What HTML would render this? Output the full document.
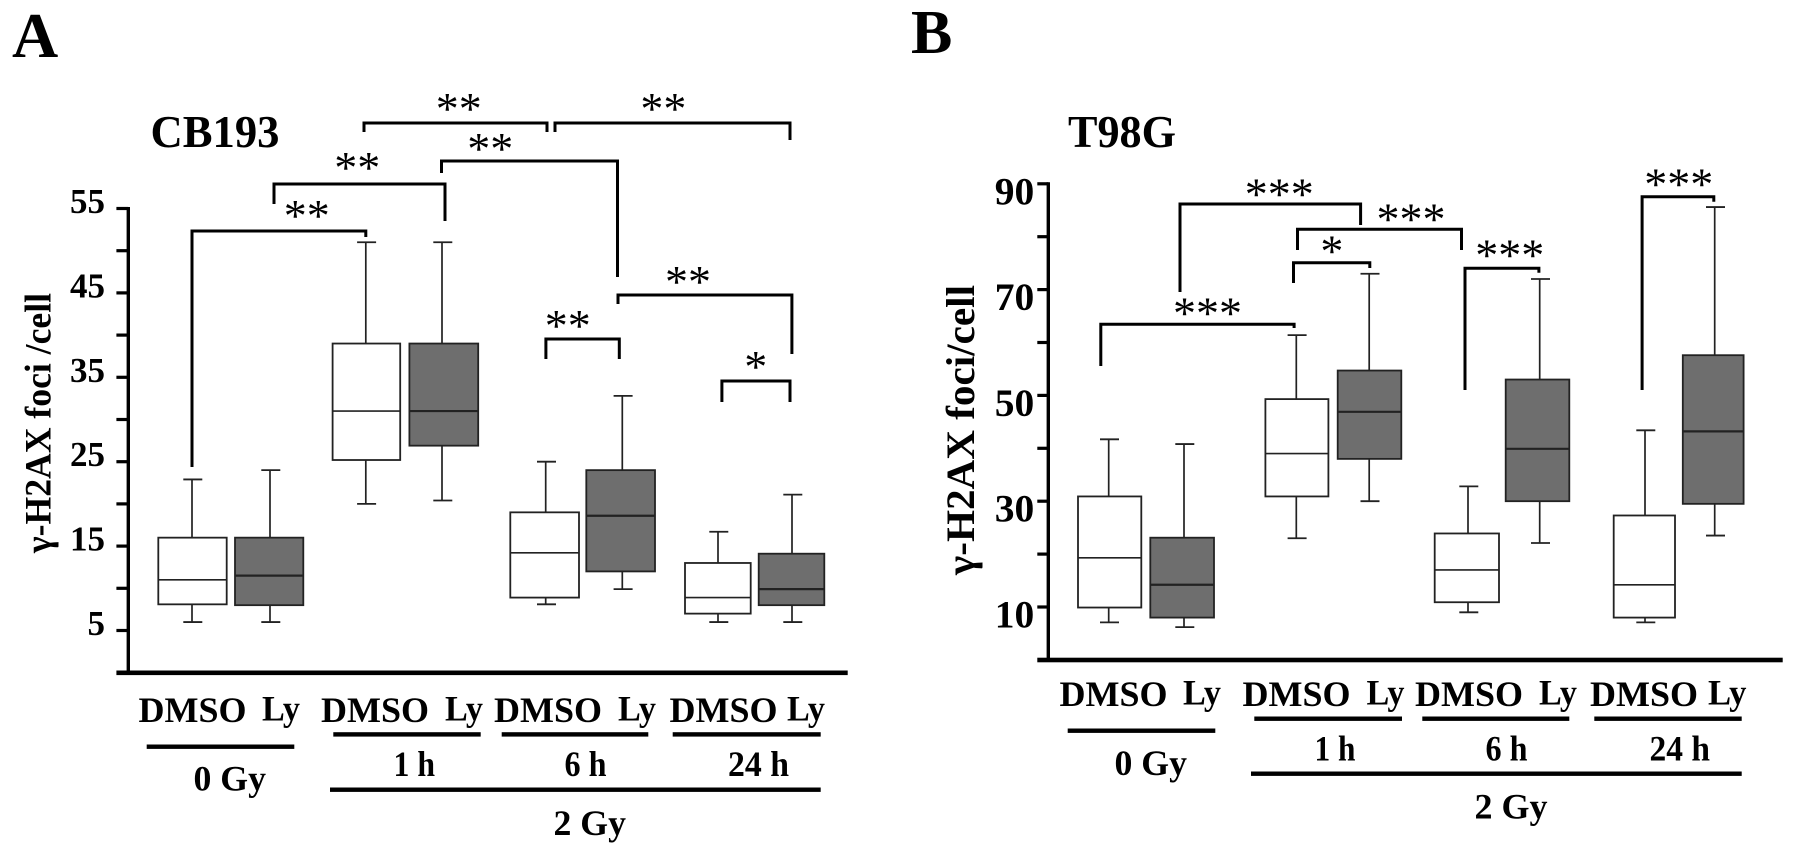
<!DOCTYPE html>
<html lang="en">
<head>
<meta charset="utf-8">
<title>γ-H2AX foci per cell: CB193 and T98G</title>
<style>
html,body{margin:0;padding:0;background:#fff;width:1795px;height:855px;overflow:hidden}
svg{display:block}
text{font-family:"Liberation Serif","DejaVu Serif",serif;font-weight:bold;fill:#000}
.br{fill:none;stroke:#000;stroke-width:3}
.st{font-size:46px;font-weight:normal;text-anchor:middle}
.xl{font-size:36px}
.bar{fill:#000}
</style>
</head>
<body>
<svg id="chart" xmlns="http://www.w3.org/2000/svg" width="1795" height="855" viewBox="0 0 1795 855">
<rect x="0" y="0" width="1795" height="855" fill="#fff"/>

<g id="panelA">
<text x="12" y="57" font-size="64">A</text>
<text x="150.5" y="147" font-size="45" textLength="129" lengthAdjust="spacingAndGlyphs">CB193</text>
<text transform="translate(50.5,553) rotate(-90)" font-size="37" textLength="260" lengthAdjust="spacingAndGlyphs">γ-H2AX foci /cell</text>

<polyline class="br" points="192,467 192,231 365.8,231 365.8,237"/>
<polyline class="br" points="274,204 274,184 445,184 445,221"/>
<polyline class="br" points="441.5,173 441.5,161 617.5,161 617.5,277"/>
<polyline class="br" points="364,132 364,123 547,123 547,132"/>
<polyline class="br" points="555,132 555,123 790,123 790,140"/>
<polyline class="br" points="618,304 618,295 791.9,295 791.9,354"/>
<polyline class="br" points="545.9,359 545.9,339 619.3,339 619.3,359"/>
<polyline class="br" points="721.9,402 721.9,381 790,381 790,402"/>

<text class="st" x="458.7" y="124">**</text>
<text class="st" x="663.4" y="124">**</text>
<text class="st" x="490.3" y="164">**</text>
<text class="st" x="357.2" y="183">**</text>
<text class="st" x="306.8" y="231">**</text>
<text class="st" x="688" y="297">**</text>
<text class="st" x="567.7" y="341">**</text>
<text class="st" x="755.7" y="382">*</text>

<text class="xl" x="138.5" y="722" textLength="108" lengthAdjust="spacingAndGlyphs">DMSO</text>
<text class="xl" x="262" y="720.5" textLength="38" lengthAdjust="spacingAndGlyphs">Ly</text>
<text class="xl" x="321" y="722" textLength="108" lengthAdjust="spacingAndGlyphs">DMSO</text>
<text class="xl" x="445" y="720.5" textLength="38" lengthAdjust="spacingAndGlyphs">Ly</text>
<text class="xl" x="494" y="722" textLength="108" lengthAdjust="spacingAndGlyphs">DMSO</text>
<text class="xl" x="618" y="720.5" textLength="38" lengthAdjust="spacingAndGlyphs">Ly</text>
<text class="xl" x="669.5" y="722" textLength="108" lengthAdjust="spacingAndGlyphs">DMSO</text>
<text class="xl" x="787" y="720.5" textLength="38" lengthAdjust="spacingAndGlyphs">Ly</text>

<rect class="bar" x="146.7" y="744.5" width="147.6" height="4.4"/>
<rect class="bar" x="333.3" y="732.2" width="147.4" height="4.4"/>
<rect class="bar" x="501.7" y="732.2" width="146.6" height="4.4"/>
<rect class="bar" x="672.7" y="732.2" width="148" height="4.4"/>
<rect class="bar" x="330" y="787.5" width="490.7" height="4.4"/>

<text class="xl" x="193.5" y="790.7" textLength="72.5" lengthAdjust="spacingAndGlyphs">0 Gy</text>
<text class="xl" x="393.5" y="776" textLength="41.5" lengthAdjust="spacingAndGlyphs">1 h</text>
<text class="xl" x="564.5" y="776" textLength="42" lengthAdjust="spacingAndGlyphs">6 h</text>
<text class="xl" x="728" y="776" textLength="61" lengthAdjust="spacingAndGlyphs">24 h</text>
<text class="xl" x="553.5" y="835" textLength="72.5" lengthAdjust="spacingAndGlyphs">2 Gy</text>
</g>

<g id="panelB">
<text x="911" y="53" font-size="62">B</text>
<text x="1068" y="147" font-size="45" textLength="108" lengthAdjust="spacingAndGlyphs">T98G</text>
<text transform="translate(974,575) rotate(-90)" font-size="40" textLength="290" lengthAdjust="spacingAndGlyphs">γ-H2AX foci/cell</text>

<polyline class="br" points="1100.8,366 1100.8,324.3 1294.1,324.3 1294.1,328"/>
<polyline class="br" points="1180,292 1180,204 1360.6,204 1360.6,225"/>
<polyline class="br" points="1297.5,250 1297.5,229.3 1461.5,229.3 1461.5,250"/>
<polyline class="br" points="1293.5,283 1293.5,262.7 1369.8,262.7 1369.8,268"/>
<polyline class="br" points="1465,390 1465,268.3 1538.9,268.3 1538.9,272.7"/>
<polyline class="br" points="1642.1,390 1642.1,196.7 1713.8,196.7 1713.8,201.7"/>

<text class="st" x="1279.2" y="209.5">***</text>
<text class="st" x="1411" y="234.5">***</text>
<text class="st" x="1331.9" y="266.5">*</text>
<text class="st" x="1509.7" y="270.5">***</text>
<text class="st" x="1678.8" y="199.5">***</text>
<text class="st" x="1207.5" y="328.5">***</text>

<text class="xl" x="1059.5" y="706" textLength="108" lengthAdjust="spacingAndGlyphs">DMSO</text>
<text class="xl" x="1183" y="704.7" textLength="38" lengthAdjust="spacingAndGlyphs">Ly</text>
<text class="xl" x="1242.5" y="706" textLength="108" lengthAdjust="spacingAndGlyphs">DMSO</text>
<text class="xl" x="1366.5" y="704.7" textLength="38" lengthAdjust="spacingAndGlyphs">Ly</text>
<text class="xl" x="1415" y="706" textLength="108" lengthAdjust="spacingAndGlyphs">DMSO</text>
<text class="xl" x="1539" y="704.7" textLength="38" lengthAdjust="spacingAndGlyphs">Ly</text>
<text class="xl" x="1590" y="706" textLength="108" lengthAdjust="spacingAndGlyphs">DMSO</text>
<text class="xl" x="1708" y="704.7" textLength="38.5" lengthAdjust="spacingAndGlyphs">Ly</text>

<rect class="bar" x="1067.7" y="728.5" width="147.6" height="4.4"/>
<rect class="bar" x="1254.3" y="716.5" width="147.7" height="4.4"/>
<rect class="bar" x="1422.3" y="716.5" width="147" height="4.4"/>
<rect class="bar" x="1594.3" y="716.5" width="147.4" height="4.4"/>
<rect class="bar" x="1251" y="771.5" width="490.7" height="4.4"/>

<text class="xl" x="1114.5" y="775" textLength="72.5" lengthAdjust="spacingAndGlyphs">0 Gy</text>
<text class="xl" x="1314.5" y="760.7" textLength="41" lengthAdjust="spacingAndGlyphs">1 h</text>
<text class="xl" x="1485.5" y="760.7" textLength="42" lengthAdjust="spacingAndGlyphs">6 h</text>
<text class="xl" x="1649.5" y="760.7" textLength="60.5" lengthAdjust="spacingAndGlyphs">24 h</text>
<text class="xl" x="1474.5" y="818.5" textLength="73" lengthAdjust="spacingAndGlyphs">2 Gy</text>
</g>
</svg>

<script>
// Box order: DMSO/Ly at 0 Gy, 1 h, 6 h, 24 h
const categories = ['0Gy-DMSO','0Gy-Ly','1h-DMSO','1h-Ly','6h-DMSO','6h-Ly','24h-DMSO','24h-Ly'];

const cb193Low    = [6, 6, 20, 20.4, 8.1, 9.9, 6, 6];
const cb193Q1     = [8.1, 8, 25.2, 26.9, 8.9, 12, 7, 8];
const cb193Median = [11, 11.5, 31, 31, 14.2, 18.6, 8.9, 9.9];
const cb193Q3     = [16, 16, 39, 39, 19, 24, 13, 14.1];
const cb193High   = [22.9, 24, 51, 51, 25, 32.8, 16.7, 21.1];
const cb193TickLabels = ['5','15','25','35','45','55'];
const cb193MinorTicks = [10, 20, 30, 40, 50];

const t98gLow    = [7.1, 6.2, 23, 30, 9, 22.1, 7.1, 23.5];
const t98gQ1     = [9.9, 8, 30.9, 38, 10.9, 30, 8, 29.5];
const t98gMedian = [19.3, 14.2, 39, 46.9, 17, 39.9, 14.2, 43.2];
const t98gQ3     = [30.9, 23.1, 49.3, 54.7, 23.9, 53, 27.3, 57.6];
const t98gHigh   = [41.7, 40.8, 61.4, 73, 32.8, 72, 43.4, 85.6];
const t98gTickLabels = ['10','30','50','70','90'];
const t98gMinorTicks = [20, 40, 60, 80];

const SVGNS = 'http://www.w3.org/2000/svg';

function make(tag, parent, attrs) {
  const el = document.createElementNS(SVGNS, tag);
  for (const k in attrs) el.setAttribute(k, attrs[k]);
  parent.appendChild(el);
  return el;
}

function drawPanel(panelId, p, low, q1, median, q3, high, tickLabels, minorTicks) {
  const root = document.getElementById(panelId);
  const y = v => p.baseY - p.unit * v;
  const top = Math.max(...tickLabels.map(Number));

  const yAxis = make('line', root, {x1: p.axisX, x2: p.axisX, y1: y(top) - 1.5, y2: p.baseY, stroke: '#000', 'stroke-width': 3.4});
  
  

  const xAxis = make('rect', root, {x: p.tickStart, y: p.baseY - 2.2, width: p.axisEnd - p.tickStart, height: 4.6, fill: '#000'});
  
  

  minorTicks.forEach(v => {
    const t = make('line', root, {x1: p.tickStart, x2: p.axisX, y1: y(v), y2: y(v), stroke: '#000', 'stroke-width': 3.2});
    
    
  });

  tickLabels.forEach(label => {
    const v = Number(label);
    const t = make('line', root, {x1: p.tickStart, x2: p.axisX, y1: y(v), y2: y(v), stroke: '#000', 'stroke-width': 3.2});
    
    
    const txt = make('text', root, {x: p.labelX, y: y(v) + p.labelDy, 'font-size': p.labelSize, 'text-anchor': 'end'});
    txt.textContent = label;
    
    
  });

  categories.forEach((cat, i) => {
    const left = p.boxLeft[i];
    const w = p.boxWidth[i];
    const cx = p.whiskerX[i];
    const dark = i % 2 === 1;
    const fill = dark ? '#6e6e6e' : '#fff';

    const g = make('g', root, {});
    
    

    const hiLine = make('line', g, {x1: cx, x2: cx, y1: y(q3[i]), y2: y(high[i]), stroke: '#222', 'stroke-width': 1.7});
    
    

    const hiCap = make('line', g, {x1: cx - 8.7, x2: cx + 10.3, y1: y(high[i]), y2: y(high[i]), stroke: '#222', 'stroke-width': 1.8});
    
    

    const loLine = make('line', g, {x1: cx, x2: cx, y1: y(q1[i]), y2: y(low[i]), stroke: '#222', 'stroke-width': 1.7});
    
    

    const loCap = make('line', g, {x1: cx - 8.7, x2: cx + 10.3, y1: y(low[i]), y2: y(low[i]), stroke: '#222', 'stroke-width': 1.8});
    
    

    const rect = make('rect', g, {x: left, y: y(q3[i]), width: w, height: y(q1[i]) - y(q3[i]), fill: fill, stroke: '#222', 'stroke-width': 1.8});
    
    

    const med = make('line', g, {x1: left, x2: left + w, y1: y(median[i]), y2: y(median[i]), stroke: '#222', 'stroke-width': dark ? 2.2 : 1.6});
    
    
  });
}

drawPanel('panelA', {
  baseY: 672.7, unit: 8.44, axisX: 128.3, tickStart: 116.4, axisEnd: 847.7,
  labelX: 105, labelDy: 4.5, labelSize: 35,
  boxLeft: [158.3, 235, 332.6, 409.4, 510.3, 586.3, 685, 758.7],
  boxWidth: [68.4, 68.3, 67.6, 68.8, 68.7, 68.7, 65.7, 65.6],
  whiskerX: [192, 270, 365.8, 442, 545.7, 622.3, 718, 792]
}, cb193Low, cb193Q1, cb193Median, cb193Q3, cb193High, cb193TickLabels, cb193MinorTicks);

drawPanel('panelB', {
  baseY: 659.9, unit: 5.29, axisX: 1048.3, tickStart: 1037.3, axisEnd: 1782.7,
  labelX: 1034.3, labelDy: 20.5, labelSize: 39.5,
  boxLeft: [1078, 1150.3, 1265.4, 1337.7, 1434.7, 1505.7, 1613.7, 1682.8],
  boxWidth: [63.3, 63.7, 63, 63.6, 64.3, 63.6, 61.3, 60.8],
  whiskerX: [1108.7, 1184, 1296.3, 1369.2, 1468, 1539.7, 1645, 1714.7]
}, t98gLow, t98gQ1, t98gMedian, t98gQ3, t98gHigh, t98gTickLabels, t98gMinorTicks);
</script>
</body>
</html>
